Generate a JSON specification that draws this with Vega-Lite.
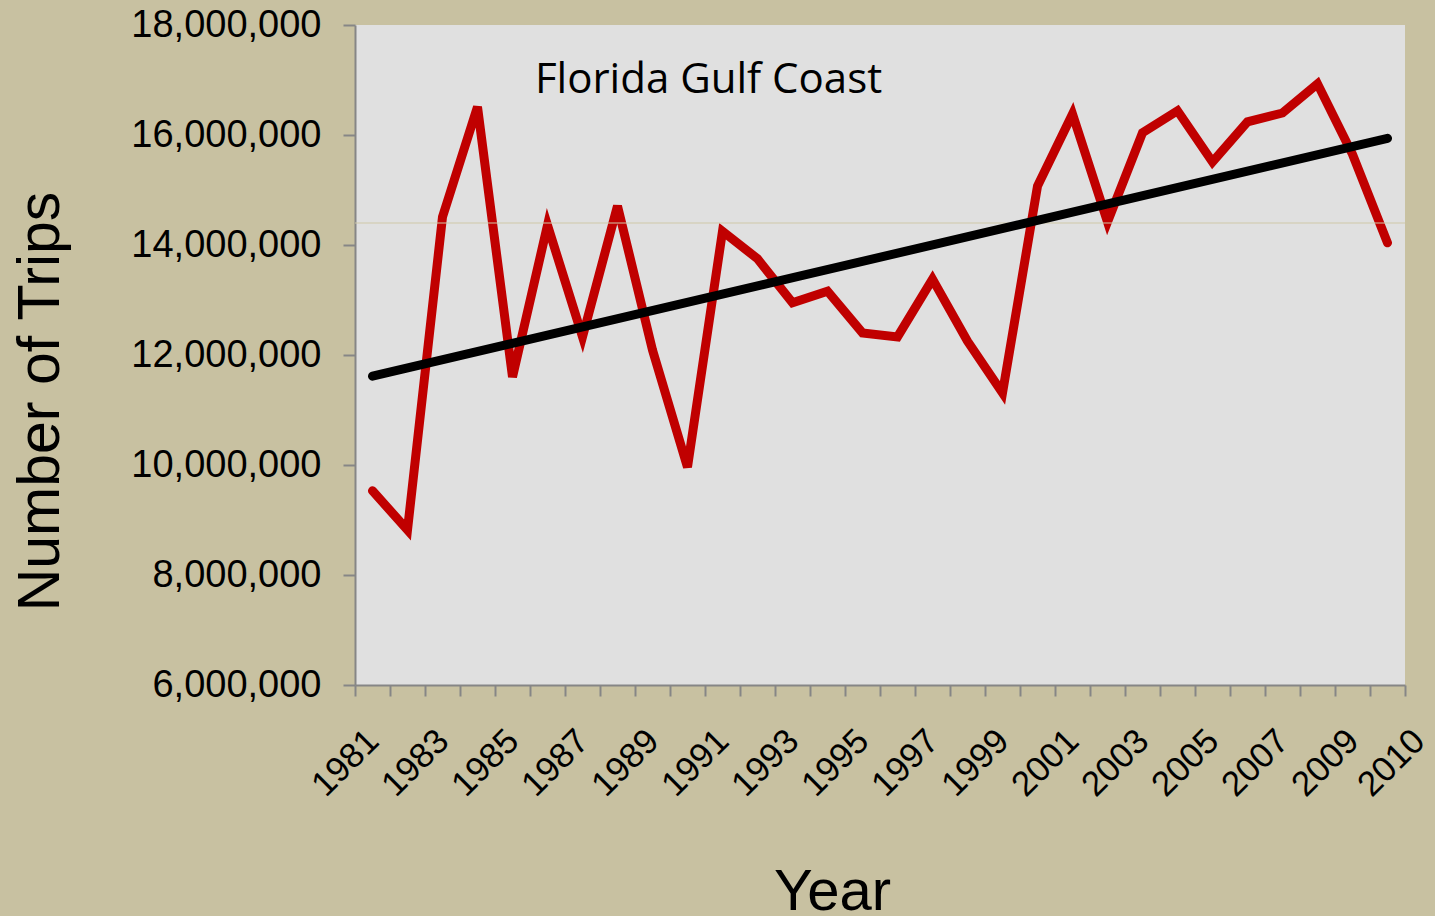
{
  "$schema": "https://vega.github.io/schema/vega-lite/v6.json",
  "autosize": "none",
  "width": 1050,
  "height": 660,
  "padding": {"left": 355, "top": 25, "right": 30, "bottom": 231},
  "background": "#C8C1A1",
  "view": {"fill": "#E0E0E0", "stroke": null},
  "data": {
    "values": [
      {"Year": 1981, "Trips": 9530000},
      {"Year": 1982, "Trips": 8820000},
      {"Year": 1983, "Trips": 14510000},
      {"Year": 1984, "Trips": 16510000},
      {"Year": 1985, "Trips": 11600000},
      {"Year": 1986, "Trips": 14360000},
      {"Year": 1987, "Trips": 12330000},
      {"Year": 1988, "Trips": 14710000},
      {"Year": 1989, "Trips": 12090000},
      {"Year": 1990, "Trips": 9960000},
      {"Year": 1991, "Trips": 14250000},
      {"Year": 1992, "Trips": 13750000},
      {"Year": 1993, "Trips": 12950000},
      {"Year": 1994, "Trips": 13160000},
      {"Year": 1995, "Trips": 12400000},
      {"Year": 1996, "Trips": 12330000},
      {"Year": 1997, "Trips": 13380000},
      {"Year": 1998, "Trips": 12250000},
      {"Year": 1999, "Trips": 11310000},
      {"Year": 2000, "Trips": 15070000},
      {"Year": 2001, "Trips": 16380000},
      {"Year": 2002, "Trips": 14420000},
      {"Year": 2003, "Trips": 16040000},
      {"Year": 2004, "Trips": 16440000},
      {"Year": 2005, "Trips": 15510000},
      {"Year": 2006, "Trips": 16240000},
      {"Year": 2007, "Trips": 16400000},
      {"Year": 2008, "Trips": 16930000},
      {"Year": 2009, "Trips": 15650000},
      {"Year": 2010, "Trips": 14040000}
    ]
  },
  "resolve": {"axis": {"x": "independent"}},
  "layer": [
    {
      "mark": {"type": "line", "color": "#C00000", "strokeWidth": 9, "strokeCap": "round", "strokeJoin": "miter"},
      "encoding": {
        "x": {
          "field": "Year",
          "type": "quantitative",
          "scale": {"domain": [1980.5, 2010.5], "nice": false, "zero": false},
          "axis": {
            "orient": "bottom",
            "title": "Year",
            "values": [1981, 1983, 1985, 1987, 1989, 1991, 1993, 1995, 1997, 1999, 2001, 2003, 2005, 2007, 2009, 2010],
            "format": "d",
            "labelAngle": -45,
            "labelAlign": "right",
            "labelBaseline": "middle",
            "labelFont": "Liberation Sans",
            "labelFontSize": 35,
            "labelColor": "#000000",
            "labelPadding": 50,
            "labelOffset": {"condition": {"test": "datum.value == 2010", "value": 31}, "value": 0},
            "labelOverlap": false,
            "labelFlush": false,
            "labelLimit": 0,
            "ticks": false,
            "grid": false,
            "domain": true,
            "domainColor": "#868686",
            "domainWidth": 2,
            "titleFont": "Liberation Sans",
            "titleFontSize": 58,
            "titleFontWeight": "normal",
            "titleColor": "#000000",
            "titleX": 477,
            "titleY": 224,
            "titleBaseline": "alphabetic",
            "titleAlign": "center"
          }
        },
        "y": {
          "field": "Trips",
          "type": "quantitative",
          "scale": {"domain": [6000000, 18000000], "nice": false, "zero": false},
          "axis": {
            "title": "Number of Trips",
            "values": [6000000, 8000000, 10000000, 12000000, 14000000, 16000000, 18000000],
            "format": ",d",
            "grid": false,
            "labelFont": "Liberation Sans",
            "labelFontSize": 38,
            "labelColor": "#000000",
            "labelPadding": 22,
            "labelLimit": 0,
            "tickSize": 12,
            "tickColor": "#868686",
            "tickWidth": 2,
            "domainColor": "#868686",
            "domainWidth": 2,
            "titleFont": "Liberation Sans",
            "titleFontSize": 59,
            "titleFontWeight": "normal",
            "titleColor": "#000000",
            "titleX": -297,
            "titleY": 376,
            "titleBaseline": "alphabetic",
            "titleAlign": "center",
            "titleAngle": -90
          }
        }
      }
    },
    {
      "data": {"values": [{"level": 14400000}]},
      "mark": {"type": "rule", "stroke": "#CFC8A8", "strokeWidth": 1},
      "encoding": {
        "y": {"field": "level", "type": "quantitative", "title": "Number of Trips"}
      }
    },
    {
      "transform": [{"regression": "Trips", "on": "Year"}],
      "mark": {"type": "line", "color": "#000000", "strokeWidth": 9, "strokeCap": "round"},
      "encoding": {
        "x": {
          "field": "Year",
          "type": "quantitative",
          "axis": {
            "orient": "bottom",
            "title": null,
            "values": [1980.5, 1981.5, 1982.5, 1983.5, 1984.5, 1985.5, 1986.5, 1987.5, 1988.5, 1989.5, 1990.5, 1991.5, 1992.5, 1993.5, 1994.5, 1995.5, 1996.5, 1997.5, 1998.5, 1999.5, 2000.5, 2001.5, 2002.5, 2003.5, 2004.5, 2005.5, 2006.5, 2007.5, 2008.5, 2009.5, 2010.5],
            "labels": false,
            "ticks": true,
            "tickSize": 11,
            "tickColor": "#868686",
            "tickWidth": 2,
            "domain": false,
            "grid": false
          }
        },
        "y": {"field": "Trips", "type": "quantitative", "title": "Number of Trips"}
      }
    },
    {
      "data": {"values": [{"label": "Florida Gulf Coast", "lx": 1985.64, "ly": 16760000}]},
      "mark": {"type": "text", "align": "left", "baseline": "alphabetic", "font": "Open Sans", "fontSize": 42, "color": "#000000"},
      "encoding": {
        "text": {"field": "label"},
        "x": {"field": "lx", "type": "quantitative", "axis": null},
        "y": {"field": "ly", "type": "quantitative", "title": "Number of Trips"}
      }
    }
  ]
}
